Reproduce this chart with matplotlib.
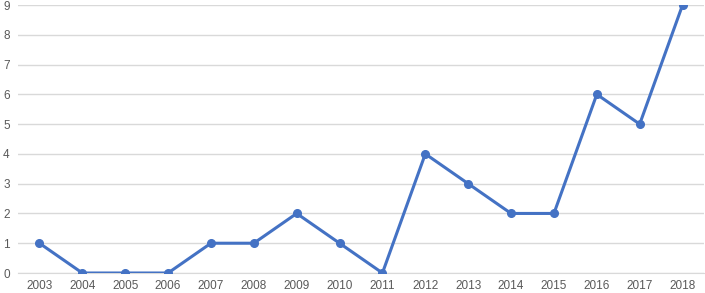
import matplotlib.pyplot as plt
import numpy as np

years = ["2003", "2004", "2005", "2006", "2007", "2008", "2009", "2010",
         "2011", "2012", "2013", "2014", "2015", "2016", "2017", "2018"]
counts = [1, 0, 0, 0, 1, 1, 2, 1, 0, 4, 3, 2, 2, 6, 5, 9]

plt.rcParams['font.family'] = ['Liberation Sans', 'DejaVu Sans']

fig = plt.figure(figsize=(7.05, 2.93), dpi=100)
ax = fig.add_axes([18/705, 20/293, 686/705, 268/293])

x = np.arange(len(years))
ax.plot(x, counts, color='#4472C4', linewidth=2.2, marker='o', markersize=5.5, zorder=3)

ax.set_xlim(-0.5, len(years) - 0.5)
ax.set_ylim(0, 9)
ax.set_yticks(range(0, 10))
ax.set_xticks(x)
ax.set_xticklabels(years)
ax.grid(axis='y', color='#D9D9D9', linewidth=1.0)
ax.set_axisbelow(True)
for s in ['top', 'right', 'left']:
    ax.spines[s].set_visible(False)
ax.spines['bottom'].set_color('#D9D9D9')
ax.tick_params(axis='both', length=0, colors='#595959', labelsize=8.5)
ax.tick_params(axis='y', pad=6)
ax.tick_params(axis='x', pad=5)
for lab in ax.get_yticklabels():
    lab.set_clip_on(False)

fig.savefig("out.png", dpi=100)
